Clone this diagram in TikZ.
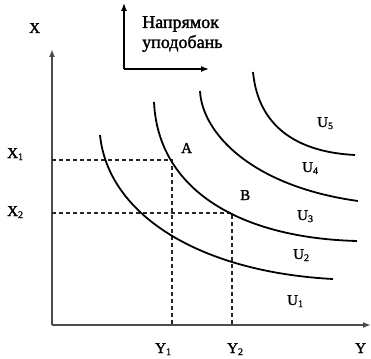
\documentclass[tikz,border=0pt]{standalone}
\usepackage{fontspec}
\setmainfont{Liberation Serif}[BoldFont={Liberation Serif},BoldFeatures={FakeBold=1.6}]
\usetikzlibrary{arrows.meta}
\newcommand{\lbl}[2]{#1\raisebox{-0.3ex}{\fontsize{10}{10}\selectfont #2}}
\begin{document}
\begin{tikzpicture}[x=1pt,y=-1pt,
  axis/.style={draw=black!70,line width=1.6pt,-{Latex[length=8pt,width=6pt]}},
  dirarrow/.style={draw=black,line width=1.4pt,-{Latex[length=8pt,width=6pt]}},
  guide/.style={draw=black!85,line width=1.3pt,dash pattern=on 4pt off 3pt},
  icurve/.style={draw=black,line width=1.8pt},
  lab/.style={inner sep=0pt,anchor=base west,font=\fontsize{15}{15}\selectfont\bfseries},
  dirtext/.style={inner sep=0pt,anchor=base west,font=\fontsize{18}{20}\selectfont\bfseries}]
\useasboundingbox (0,0) rectangle (371,358);
% coordinates
\coordinate (O) at (52,325);
\coordinate (Ytop) at (52,49);
\coordinate (Xend) at (371,325);
\coordinate (D0) at (124,69);
\coordinate (Dup) at (124,3);
\coordinate (Dright) at (209,69);
\coordinate (A) at (172,160);
\coordinate (B) at (232,213);
\coordinate (X1) at (52,160);
\coordinate (X2) at (52,213);
\coordinate (Y1) at (172,325);
\coordinate (Y2) at (232,325);
% axes
\draw[axis] (O) -- (Ytop);
\draw[axis] (O) -- (Xend);
% direction arrows
\draw[dirarrow] (D0) -- (Dup);
\draw[dirarrow] (D0) -- (Dright);
\node[dirtext] (t1) at (142,28) {Напрямок};
\node[dirtext] (t2) at (142,48) {уподобань};
% guides
\draw[guide] (X1) -- (A) -- (Y1);
\draw[guide] (X2) -- (B) -- (Y2);
% indifference curves
\draw[icurve] (100,135) .. controls (108,215) and (200,272) .. (333,279);
\draw[icurve] (154,102) .. controls (158,190) and (240,238) .. (357,241);
\draw[icurve] (200,91) .. controls (202,132) and (250,186) .. (358,201);
\draw[icurve] (253,72) .. controls (258,125) and (295,152) .. (355,155);
% labels
\node[lab] (lx) at (29,33) {X};
\node[lab] (lx1) at (7,158) {\lbl{X}{1}};
\node[lab] (lx2) at (7,216) {\lbl{X}{2}};
\node[lab] (ly1) at (155,353) {\lbl{Y}{1}};
\node[lab] (ly2) at (227,353) {\lbl{Y}{2}};
\node[lab] (ly) at (355,353) {Y};
\node[lab] (la) at (181,153) {A};
\node[lab] (lb) at (240,200) {B};
\node[lab] (u5) at (317,127) {\lbl{U}{5}};
\node[lab] (u4) at (302,172) {\lbl{U}{4}};
\node[lab] (u3) at (297,220) {\lbl{U}{3}};
\node[lab] (u2) at (293,259) {\lbl{U}{2}};
\node[lab] (u1) at (287,305) {\lbl{U}{1}};
\end{tikzpicture}
\end{document}
